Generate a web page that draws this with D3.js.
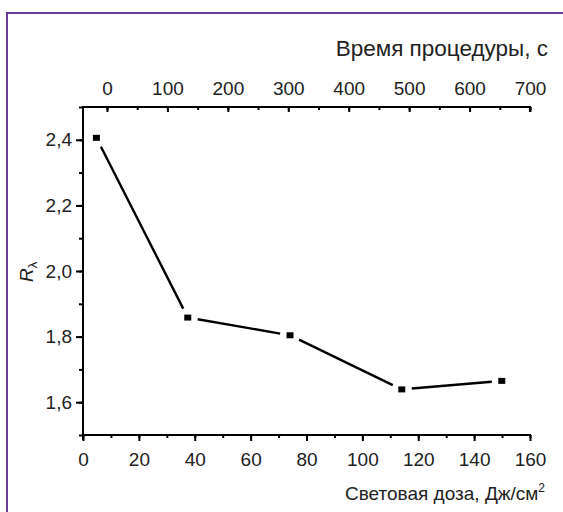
<!DOCTYPE html>
<html><head><meta charset="utf-8">
<script src="https://cdn.jsdelivr.net/npm/d3@7"></script>
<style>
html,body{margin:0;padding:0;background:#fff;}
svg{display:block;font-family:"Liberation Sans",Arial,sans-serif;}
</style></head>
<body>
<svg id="chart" width="563" height="512"></svg>
<script>
// Data
const dose = [4.8, 37.5, 74.1, 114.1, 149.9];      // Световая доза, Дж/см²
const rValues = [2.406, 1.858, 1.804, 1.639, 1.665]; // R_λ
const bottomTicks = [0, 20, 40, 60, 80, 100, 120, 140, 160];
const topTicks = [0, 100, 200, 300, 400, 500, 600, 700];
const yTicks = [1.6, 1.8, 2.0, 2.2, 2.4];
const xTitle = "Световая доза, Дж/см";
const topTitle = "Время процедуры, с";

const svg = d3.select("#chart");
const L = 83, R = 530, T = 107, B = 435;
const FS = 19;

// frame
svg.append("rect").attr("x", 7).attr("y", 13).attr("width", 600).attr("height", 600)
  .attr("fill", "none").attr("stroke", "#6a3d9c").attr("stroke-width", 2);

const x = d3.scaleLinear().domain([0, 160]).range([L, R]);
const xTop = d3.scaleLinear().domain([-39.7, 700]).range([L, R]);
const y = d3.scaleLinear().domain([1.5, 2.5]).range([B, T]);

const fmt = d => d3.format(".1f")(d).replace(".", ",");

// bottom axis
const gB = svg.append("g").attr("transform", `translate(0,${B})`);
gB.call(d3.axisBottom(x).tickValues(d3.range(0, 161, 10)).tickSize(3).tickFormat(""));
gB.append("g").call(d3.axisBottom(x).tickValues(bottomTicks).tickSize(6).tickPadding(12).tickFormat(d3.format("d")));
// left axis
const gL = svg.append("g").attr("transform", `translate(${L},0)`);
gL.call(d3.axisLeft(y).tickValues(d3.range(1.5, 2.51, 0.1)).tickSize(4).tickFormat(""));
gL.append("g").call(d3.axisLeft(y).tickValues(yTicks).tickSize(7).tickPadding(4).tickFormat(fmt));
// top axis
const gT = svg.append("g").attr("transform", `translate(0,${T})`);
gT.call(d3.axisTop(xTop).tickValues(d3.range(0, 701, 50)).tickSize(-3).tickFormat(""));
gT.append("g").call(d3.axisTop(xTop).tickValues(topTicks).tickSize(-5).tickPadding(12).tickFormat(d3.format("d")));

svg.selectAll(".domain").remove();
// axis lines
svg.append("line").attr("x1", L).attr("x2", R + 1).attr("y1", B).attr("y2", B).attr("stroke", "#000").attr("stroke-width", 2);
svg.append("line").attr("x1", L).attr("x2", R + 1).attr("y1", T).attr("y2", T).attr("stroke", "#000").attr("stroke-width", 2);
svg.append("line").attr("x1", L).attr("x2", L).attr("y1", T - 1).attr("y2", B + 5).attr("stroke", "#000").attr("stroke-width", 2);
svg.append("line").attr("x1", R).attr("x2", R).attr("y1", T - 1).attr("y2", T + 5).attr("stroke", "#000").attr("stroke-width", 2);
svg.selectAll(".tick line").attr("stroke", "#000").attr("stroke-width", 2);
svg.selectAll(".tick text").attr("font-size", FS).attr("fill", "#222").attr("font-family", "Liberation Sans, Arial, sans-serif");
gT.selectAll(".tick text").attr("dy", "0");

// line segments with gaps near markers
const pts = dose.map((d, i) => [x(d), y(rValues[i])]);
const gap = 10;
for (let i = 0; i < pts.length - 1; i++) {
  const [x1, y1] = pts[i], [x2, y2] = pts[i + 1];
  const len = Math.hypot(x2 - x1, y2 - y1);
  const ux = (x2 - x1) / len, uy = (y2 - y1) / len;
  svg.append("line")
    .attr("x1", x1 + ux * gap).attr("y1", y1 + uy * gap)
    .attr("x2", x2 - ux * gap).attr("y2", y2 - uy * gap)
    .attr("stroke", "#000").attr("stroke-width", 2.4);
}
svg.selectAll("rect.pt").data(dose).enter().append("rect").attr("class", "pt")
  .attr("x", d => x(d) - 3.5).attr("y", (d, i) => y(rValues[i]) - 3)
  .attr("width", 7).attr("height", 6).attr("fill", "#000");

// titles
svg.append("text").attr("x", 548).attr("y", 56).attr("text-anchor", "end")
  .attr("font-size", 22.5).attr("fill", "#222").text(topTitle);
const xt = svg.append("text").attr("x", 545).attr("y", 500).attr("text-anchor", "end")
  .attr("font-size", FS).attr("fill", "#222").text(xTitle);
xt.append("tspan").attr("dy", -8).attr("font-size", 12).text("2");

const yl = svg.append("text").attr("transform", "translate(33,282) rotate(-90)")
  .attr("font-size", FS).attr("fill", "#222");
yl.append("tspan").attr("font-style", "italic").text("R");
yl.append("tspan").attr("dy", 4).attr("font-size", 13).text("λ");
</script>
</body></html>
